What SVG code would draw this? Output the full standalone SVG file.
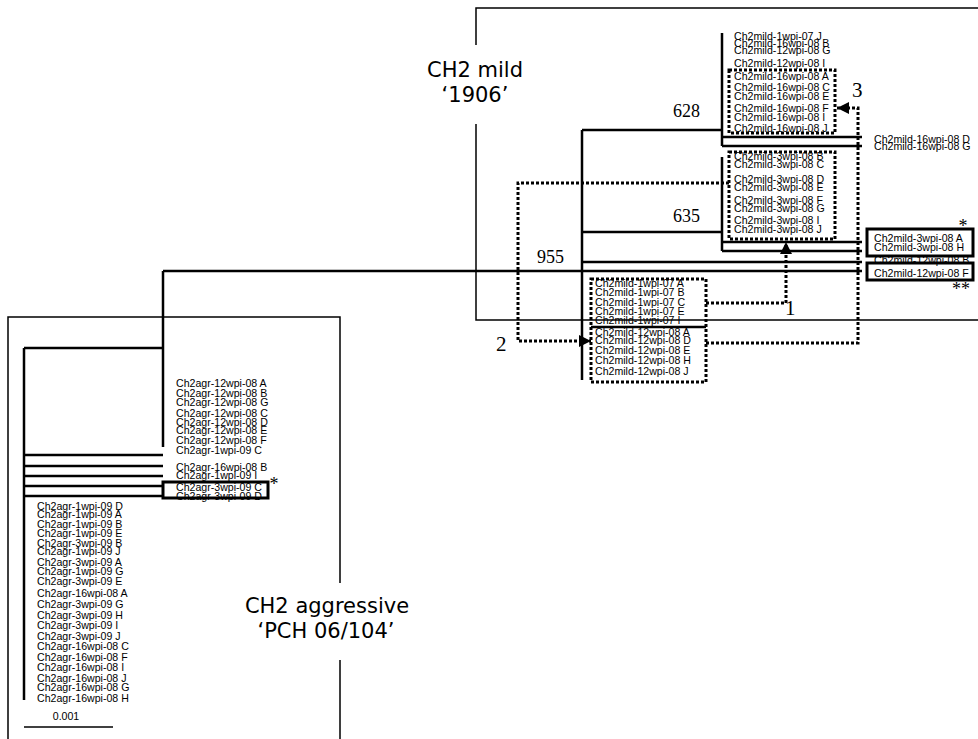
<svg xmlns="http://www.w3.org/2000/svg" width="978" height="739" viewBox="0 0 978 739">
<style>
.ln{fill:none;stroke:#000;stroke-width:2.5}
.fr{fill:none;stroke:#000;stroke-width:1.5}
.dt{fill:none;stroke:#000;stroke-width:3;stroke-dasharray:3 2}
.bx{fill:none;stroke:#000;stroke-width:3}
.lb{font-family:"Liberation Sans",Arial,sans-serif;font-size:10.6px;fill:#000}
.nm{font-family:"Liberation Serif","Times New Roman",serif;font-size:18px}
.bg{font-family:"Liberation Serif","Times New Roman",serif;font-size:21px}
.tt{font-family:"DejaVu Sans",Verdana,sans-serif;font-size:21px;text-anchor:middle}
.st{font-family:"Liberation Serif","Times New Roman",serif;font-size:18px;text-anchor:middle}
</style>
<defs>
<marker id="ah" markerUnits="userSpaceOnUse" viewBox="0 0 12 12" refX="12" refY="6" markerWidth="12" markerHeight="12" orient="auto"><path d="M0,0L12,6L0,12z" fill="#000"/></marker>
</defs>
<rect width="978" height="739" fill="#fff"/>

<g id="frame-mild">
<path class="fr" d="M978,8H476V45M476,124V320H978"/>
<text class="tt" x="475" y="77">CH2 mild</text>
<text class="tt" x="475" y="102">‘1906’</text>
</g>

<g id="frame-aggressive">
<path class="fr" d="M8,739V317H340V583M340,660V739"/>
<text class="tt" x="327" y="613">CH2 aggressive</text>
<text class="tt" x="326" y="638">‘PCH 06/104’</text>
</g>

<g id="connectors">
<path class="ln" d="M582,130V380M582,130H722M722,33V146M722,137H862M722,146H862M582,232H722M722,157V251M722,242H862M722,251H862M582,262H862M163,271H862M591,327H706"/>
<path class="ln" d="M163,271V447M24,348H163M24,348V700M24,455H163M24,466H163M24,476H163M24,486H163M24,496H163"/>
<path class="dt" d="M729,183H518V341H591" marker-end="url(#ah)"/>
<path class="dt" d="M706,303H786V242" marker-end="url(#ah)"/>
<path class="dt" d="M706,343H858V108H837" marker-end="url(#ah)"/>
<text class="bg" x="785" y="315">1</text>
<text class="bg" x="496" y="351">2</text>
<text class="bg" x="852" y="97">3</text>
</g>

<g id="node-628">
<text class="nm" x="673" y="117">628</text>
<text class="lb"><tspan x="734" y="39.5">Ch2mild-1wpi-07 J</tspan><tspan x="734" y="47.1">Ch2mild-16wpi-08 B</tspan><tspan x="734" y="53.8">Ch2mild-12wpi-08 G</tspan><tspan x="734" y="66.5">Ch2mild-12wpi-08 I</tspan><tspan x="734" y="79.8">Ch2mild-16wpi-08 A</tspan><tspan x="734" y="91.1">Ch2mild-16wpi-08 C</tspan><tspan x="734" y="99.8">Ch2mild-16wpi-08 E</tspan><tspan x="734" y="111.5">Ch2mild-16wpi-08 F</tspan><tspan x="734" y="121.1">Ch2mild-16wpi-08 I</tspan><tspan x="734" y="131.5">Ch2mild-16wpi-08 J</tspan></text>
<rect class="dt" x="729" y="70" width="106" height="63"/>
<text class="lb"><tspan x="874" y="142.5">Ch2mild-16wpi-08 D</tspan><tspan x="874" y="149.5">Ch2mild-16wpi-08 G</tspan></text>
</g>

<g id="node-635">
<text class="nm" x="673" y="222">635</text>
<text class="lb"><tspan x="734" y="159.8">Ch2mild-3wpi-08 B</tspan><tspan x="734" y="167.8">Ch2mild-3wpi-08 C</tspan><tspan x="734" y="182.8">Ch2mild-3wpi-08 D</tspan><tspan x="734" y="190.8">Ch2mild-3wpi-08 E</tspan><tspan x="734" y="203.8">Ch2mild-3wpi-08 F</tspan><tspan x="734" y="211.8">Ch2mild-3wpi-08 G</tspan><tspan x="734" y="223.8">Ch2mild-3wpi-08 I</tspan><tspan x="734" y="232.8">Ch2mild-3wpi-08 J</tspan></text>
<rect class="dt" x="729" y="152" width="106" height="87"/>
</g>

<g id="node-right-leaves">
<text class="lb"><tspan x="874" y="242">Ch2mild-3wpi-08 A</tspan><tspan x="874" y="251">Ch2mild-3wpi-08 H</tspan><tspan x="874" y="264">Ch2mild-12wpi-08 B</tspan><tspan x="874" y="277">Ch2mild-12wpi-08 F</tspan></text>
<rect class="bx" x="867" y="229" width="106" height="27"/>
<rect class="bx" x="867" y="263" width="106" height="17"/>
<text class="st" x="963" y="232">*</text>
<text class="st" x="961" y="295">**</text>
</g>

<g id="node-955">
<text class="nm" x="537" y="263">955</text>
<text class="lb"><tspan x="595" y="286.8">Ch2mild-1wpi-07 A</tspan><tspan x="595" y="295.8">Ch2mild-1wpi-07 B</tspan><tspan x="595" y="305.8">Ch2mild-1wpi-07 C</tspan><tspan x="595" y="314.8">Ch2mild-1wpi-07 E</tspan><tspan x="595" y="323.8">Ch2mild-1wpi-07 I</tspan><tspan x="595" y="335.8">Ch2mild-12wpi-08 A</tspan><tspan x="595" y="343.8">Ch2mild-12wpi-08 D</tspan><tspan x="595" y="353.8">Ch2mild-12wpi-08 E</tspan><tspan x="595" y="363.8">Ch2mild-12wpi-08 H</tspan><tspan x="595" y="374.8">Ch2mild-12wpi-08 J</tspan></text>
<rect class="dt" x="591" y="279" width="115" height="103"/>
</g>

<g id="node-agr-upper">
<text class="lb"><tspan x="176" y="386.8">Ch2agr-12wpi-08 A</tspan><tspan x="176" y="396.8">Ch2agr-12wpi-08 B</tspan><tspan x="176" y="405.8">Ch2agr-12wpi-08 G</tspan><tspan x="176" y="416.8">Ch2agr-12wpi-08 C</tspan><tspan x="176" y="425.8">Ch2agr-12wpi-08 D</tspan><tspan x="176" y="433.8">Ch2agr-12wpi-08 E</tspan><tspan x="176" y="443.8">Ch2agr-12wpi-08 F</tspan><tspan x="176" y="453.8">Ch2agr-1wpi-09 C</tspan><tspan x="176" y="470.8">Ch2agr-16wpi-08 B</tspan><tspan x="176" y="478.8">Ch2agr-1wpi-09 I</tspan><tspan x="176" y="490.8">Ch2agr-3wpi-09 C</tspan><tspan x="176" y="499.8">Ch2agr-3wpi-09 D</tspan></text>
<rect class="bx" x="163" y="482" width="105" height="16"/>
<text class="st" x="274" y="490">*</text>
</g>

<g id="node-agr-root">
<text class="lb"><tspan x="37" y="509.8">Ch2agr-1wpi-09 D</tspan><tspan x="37" y="517.8">Ch2agr-1wpi-09 A</tspan><tspan x="37" y="527.8">Ch2agr-1wpi-09 B</tspan><tspan x="37" y="536.8">Ch2agr-1wpi-09 E</tspan><tspan x="37" y="546.8">Ch2agr-3wpi-09 B</tspan><tspan x="37" y="554.8">Ch2agr-1wpi-09 J</tspan><tspan x="37" y="565.8">Ch2agr-3wpi-09 A</tspan><tspan x="37" y="574.8">Ch2agr-1wpi-09 G</tspan><tspan x="37" y="584.8">Ch2agr-3wpi-09 E</tspan><tspan x="37" y="596.8">Ch2agr-16wpi-08 A</tspan><tspan x="37" y="607.8">Ch2agr-3wpi-09 G</tspan><tspan x="37" y="618.8">Ch2agr-3wpi-09 H</tspan><tspan x="37" y="628.8">Ch2agr-3wpi-09 I</tspan><tspan x="37" y="639.8">Ch2agr-3wpi-09 J</tspan><tspan x="37" y="649.8">Ch2agr-16wpi-08 C</tspan><tspan x="37" y="660.8">Ch2agr-16wpi-08 F</tspan><tspan x="37" y="670.8">Ch2agr-16wpi-08 I</tspan><tspan x="37" y="681.8">Ch2agr-16wpi-08 J</tspan><tspan x="37" y="690.8">Ch2agr-16wpi-08 G</tspan><tspan x="37" y="701.8">Ch2agr-16wpi-08 H</tspan></text>
</g>

<g id="scale-bar">
<text class="lb" x="66" y="720" text-anchor="middle">0.001</text>
<path d="M24,727H113" stroke="#000" stroke-width="1.3"/>
</g>
</svg>
